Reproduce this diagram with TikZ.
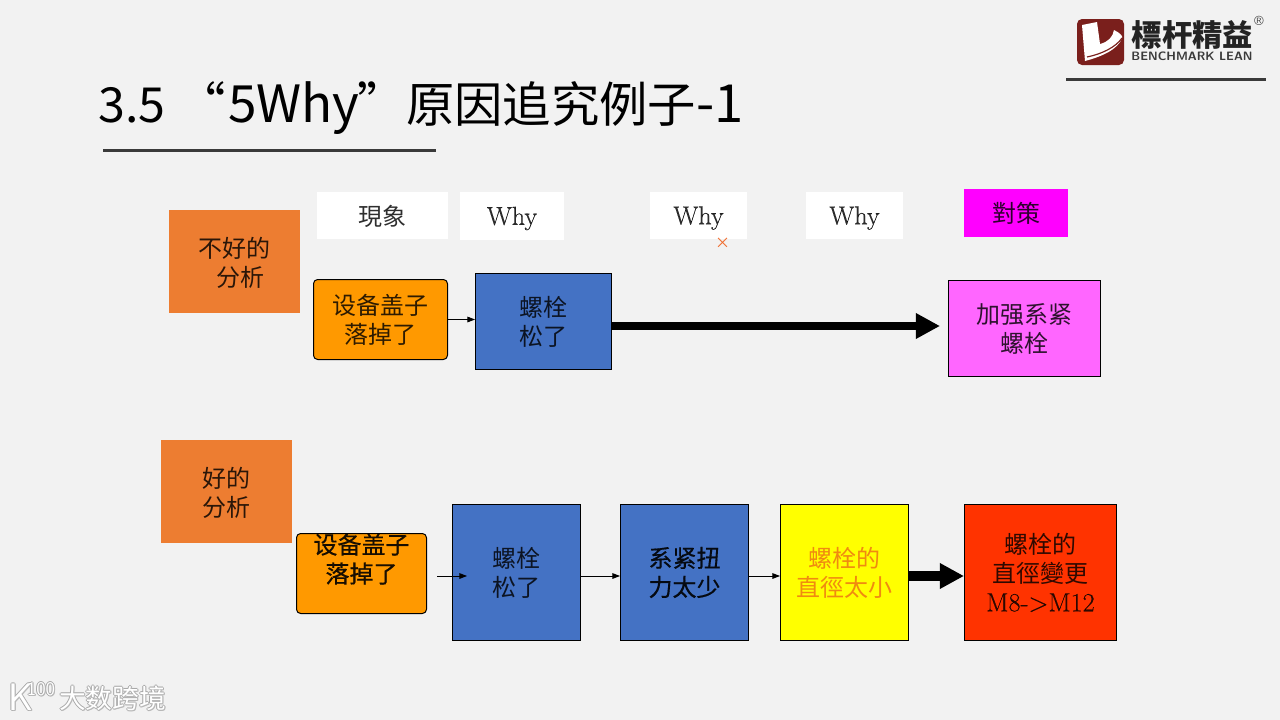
\documentclass[tikz,border=0pt]{standalone}
\usepackage{fontspec}
\usepackage{tikz}
\usetikzlibrary{arrows.meta,positioning}
\newfontfamily\cjk{Noto Sans CJK SC}
\newfontfamily\cjkm{Noto Sans CJK SC}[FakeBold=.5]
\newfontfamily\latinf{Latin Modern Roman}[FakeBold=.35]
\newcommand{\bajar}[2]{\raisebox{0pt}[\dimexpr\height+#1\relax]{#2}}
\definecolor{SlideGris}{HTML}{F2F2F2}
\definecolor{TagNaranja}{HTML}{ED7D31}
\definecolor{CajaNaranja}{HTML}{FF9900}
\definecolor{CajaAzul}{HTML}{4472C4}
\definecolor{CajaRosa}{HTML}{FF66FF}
\definecolor{CajaMagenta}{HTML}{FF00FF}
\definecolor{CajaAmarilla}{HTML}{FFFF00}
\definecolor{CajaRoja}{HTML}{FF3300}
\definecolor{TextoAmbar}{HTML}{F08A10}
\definecolor{LogoRojo}{HTML}{7A1F1C}
\definecolor{LogoGris}{HTML}{3A3A3A}
\tikzset{
  bx/.style 2 args={minimum width=#1*.6pt,minimum height=#2*.6pt,inner sep=0pt,align=center,
    text opacity=.82,font=\fontsize{14.4}{17.4}\selectfont\cjk},
  tag/.style={fill=TagNaranja},
  head/.style={fill=white},
  headwhy/.style={fill=white,font=\fontsize{15.7}{17.4}\selectfont\latinf},
  cell/.style={draw=black,line width=.6pt},
  thin arrow/.style={-{Triangle[length=4.6pt,width=3.4pt]},line width=.5pt},
}
\begin{document}
\begin{tikzpicture}[x=.6pt,y=-.6pt,>=Stealth]
\useasboundingbox (0,0) rectangle (1280,720);
\fill[SlideGris] (0,0) rectangle (1280,720);
% title
\node[anchor=west,inner sep=0pt,font=\fontsize{29}{32}\selectfont\cjk] (title) at (98,108) {3.5\hspace{7pt}“\hspace{1.6pt}{\fontsize{30.8}{32}\selectfont 5Why}\hspace{-1pt}”原因追究例子{\fontsize{31.5}{32}\selectfont -1}};
\draw[LogoGris,line width=1.8pt] (103,150)--(436,150);
% logo
\fill[LogoRojo,rounded corners=3pt] (1077,19) rectangle (1124,65);
\fill[white] (1082,25)--(1097,22)--(1100,44) .. controls (1108,42) and (1113,37) .. (1114,30)
  .. controls (1120,33) and (1123,36) .. (1122,38) .. controls (1118,50) and (1100,57) .. (1085,61)--cycle;
\draw[LogoRojo,line width=.7pt] (1087,57) .. controls (1102,54) and (1116,47) .. (1122,38);
\node[inner sep=0pt,font=\fontsize{18.2}{18}\selectfont\cjk\bfseries,text=LogoGris!60!black] (logoname) at (1192.5,35) {標杆精益};
\node[inner sep=0pt,font=\fontsize{7.3}{7}\selectfont\sffamily\bfseries,text=LogoGris] (logosub) at (1192,56) {BENCHMARK LEAN};
\node[inner sep=0pt,font=\fontsize{8}{8}\selectfont\sffamily,text=LogoGris] (logoreg) at (1259,21) {\textregistered};
\draw[LogoGris,line width=1.8pt] (1066,79)--(1266,79);
% first row
\node[bx={131}{103},tag] (malo) at (234.5,261.5) {\bajar{1.5pt}{不好的}\\\hspace*{7pt}分析};
\node[bx={131}{47},head] (fenA) at (382.5,215.5) {\bajar{1.5pt}{現象}};
\node[bx={104}{48},headwhy] (whyA) at (512,216) {\bajar{3pt}{Why}};
\node[bx={97}{47},headwhy] (whyB) at (698.5,215.5) {\bajar{3pt}{Why}};
\node[bx={97}{47},headwhy] (whyC) at (854.5,215.5) {\bajar{3pt}{Why}};
\node[bx={104}{48},fill=CajaMagenta] (duice) at (1016,213) {對策};
\node[inner sep=0pt,font=\fontsize{9}{9}\selectfont\cjk,text=TagNaranja!85!red] (cross) at (722.5,243) {×};
\node[bx={134}{80},cell,fill=CajaNaranja,rounded corners=2.5pt] (shebeiA) at (380.5,319.5) {设备盖子\\落掉了};
\node[bx={136}{96},cell,fill=CajaAzul] (luoA) at (543.5,321.5) {螺栓\\松了};
\node[bx={152}{96},cell,fill=CajaRosa] (jiaqiang) at (1024.5,328.5) {加强系紧\\螺栓};
\coordinate (tipA) at (940,326);
\draw[thin arrow] (shebeiA.east)--(luoA.west |- shebeiA.east);
\draw[-{Triangle[length=14.5pt,width=14.5pt]},line width=4.8pt] (luoA.east |- tipA)--(tipA);
% second row
\node[bx={131}{103},tag] (bueno) at (226.5,491.5) {\bajar{2pt}{好的}\\分析};
\node[bx={130}{80},cell,fill=CajaNaranja,rounded corners=2.5pt] (shebeiB) at (361.5,573.5) {};
\node[inner sep=0pt,align=center,text opacity=.9,font=\fontsize{14.4}{17.4}\selectfont\cjkm] (shebeiT) at (361.5,559) {设备盖子\\落掉了};
\node[bx={128}{136},cell,fill=CajaAzul] (luoB) at (516.5,572.5) {螺栓\\松了};
\node[bx={128}{136},cell,fill=CajaAzul,text opacity=.9,font=\fontsize{14.4}{17.4}\selectfont\cjkm] (niuli) at (684.5,572.5) {系紧扭\\力太少};
\node[bx={128}{136},cell,fill=CajaAmarilla,text=TextoAmbar,text opacity=1] (zhijing) at (844.5,572.5) {螺栓的\\直徑太小};
\node[bx={152}{136},cell,fill=CajaRoja] (biangeng) at (1040.5,572.5) {螺栓的\\直徑變更\\{\fontsize{15.7}{17.4}\selectfont\latinf M8->M12}};
\coordinate (startB) at (437,576);
\coordinate (tipB) at (467,576);
\draw[thin arrow] (startB)--(tipB);
\draw[thin arrow] (luoB.east |- startB)--(niuli.west |- startB);
\draw[thin arrow] (niuli.east |- startB)--(zhijing.west |- startB);
\draw[-{Triangle[length=14.5pt,width=14.5pt]},line width=6pt] (zhijing.east |- startB)--(biangeng.west |- startB);
% watermark
\foreach \dx/\dy/\col in {-1/0/black!35,1/0/black!35,0/-1/black!35,0/1/black!35,1/1/black!28,0/0/white}{
  \node[inner sep=0pt,text=\col,font=\fontsize{16}{16}\selectfont\cjk] at (112.5+\dx,698+\dy) {大数跨境};
  \node[inner sep=0pt,text=\col,font=\fontsize{23}{23}\selectfont\sffamily] at (21+\dx,697+\dy) {K};
  \node[inner sep=0pt,text=\col,font=\fontsize{11.5}{12}\selectfont\sffamily] at (41+\dx,689+\dy) {100};
}
\end{tikzpicture}
\end{document}
